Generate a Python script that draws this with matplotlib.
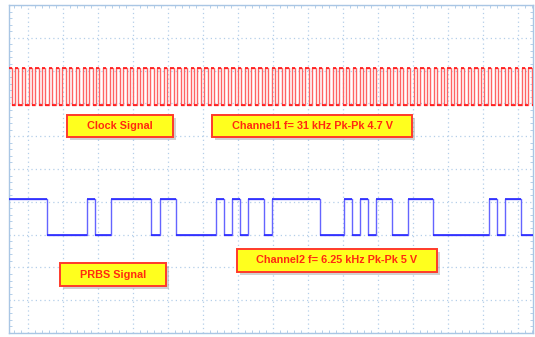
import numpy as np
import matplotlib
matplotlib.use('Agg')
import matplotlib.pyplot as plt
from matplotlib.patches import Rectangle
from matplotlib.ticker import MultipleLocator

# time base: 100 us per division, vertical in divisions
T_START = -54.3
T_END = 1443.0

# channel 1 - clock
clock_period_us = 19.3
clock_high = 3.08
clock_low = 1.95

# channel 2 - PRBS, bits
prbs_bit_us = 22.95
prbs_bits = [1, 1, 1, 1, 1,
             0, 0, 0, 0, 0, 1, 0, 0, 1, 1, 1, 1, 1, 0, 1, 1,
             0, 0, 0, 0, 0, 1, 0, 1, 0, 1, 1, 0, 1, 1, 1, 1, 1, 1,
             0, 0, 0, 1, 0, 1, 0, 1, 1, 0, 0, 1, 1, 1,
             0, 0, 0, 0, 0, 0, 0, 1, 0, 1, 1, 0, 0, 1, 1]
prbs_high = -0.91
prbs_low = -2.01

labels_top = ['Clock Signal', 'Channel1 f= 31 kHz Pk-Pk 4.7 V']
labels_bottom = ['PRBS Signal', 'Channel2 f= 6.25 kHz Pk-Pk 5 V']

GRID_COL = '#b4cfe9'


def square_wave(period, t0, t1):
    edges = np.arange(t0, t1 + period, period / 2.0)
    lev = np.array([clock_high if i % 2 == 0 else clock_low for i in range(len(edges))])
    return edges, lev


def bits_wave(bits, bit_len, t0):
    t = t0 + np.arange(len(bits) + 1) * bit_len
    lev = [prbs_high if b else prbs_low for b in bits]
    lev.append(lev[-1])
    return t, np.array(lev)


def draw_trace(ax, t, v, col, edge_col):
    # thin lighter edges like the scope screen, solid flat parts on top
    ax.step(t, v, where='post', color=edge_col, lw=1.0, zorder=3)
    ax.hlines(v[:-1], t[:-1], t[1:], color=col, lw=1.2, zorder=3.5)


def label_box(ax, x0, y0, x1, y1, txt):
    # shadow first, then the yellow box
    ax.add_patch(Rectangle((x0 + 0.005, y0 - 0.01), x1 - x0, y1 - y0,
                           transform=ax.transAxes, facecolor='#999999',
                           alpha=0.45, edgecolor='none', zorder=4))
    ax.add_patch(Rectangle((x0, y0), x1 - x0, y1 - y0, transform=ax.transAxes,
                           facecolor='#ffff1e', edgecolor='#ff3a2a', lw=1.4, zorder=5))
    ax.text((x0 + x1) / 2, (y0 + y1) / 2, txt, transform=ax.transAxes,
            ha='center', va='center', color='#ff2a10', fontsize=7.8,
            fontweight='bold', family='Liberation Sans', zorder=6)


fig = plt.figure(figsize=(5.35, 3.37), dpi=100)
ax = fig.add_axes([9 / 535, 4 / 337, 524 / 535, 328 / 337])

t, v = square_wave(clock_period_us, T_START - 2, T_END)
draw_trace(ax, t, v, '#ff1414', '#ff6464')

t, v = bits_wave(prbs_bits, prbs_bit_us, T_START - 6)
draw_trace(ax, t, v, '#2828ff', '#6464ff')

ax.set_xlim(T_START, T_END)
ax.set_ylim(-5, 5)
ax.xaxis.set_major_locator(MultipleLocator(100))
ax.yaxis.set_major_locator(MultipleLocator(1))
ax.xaxis.set_minor_locator(MultipleLocator(20))
ax.yaxis.set_minor_locator(MultipleLocator(0.2))
ax.grid(True, which='major', color=GRID_COL, ls=(0, (1, 2.5)), lw=0.9)
ax.tick_params(which='both', direction='in', top=True, right=True,
               labelbottom=False, labelleft=False, color=GRID_COL)
ax.tick_params(which='major', length=0)
ax.tick_params(which='minor', length=2.5, width=0.7)
for s in ax.spines.values():
    s.set_color('#a9c6e4')
    s.set_linewidth(1.0)

label_box(ax, 0.1107, 0.5976, 0.3130, 0.6646, labels_top[0])
label_box(ax, 0.3874, 0.5976, 0.7691, 0.6646, labels_top[1])
label_box(ax, 0.0973, 0.1433, 0.2996, 0.2134, labels_bottom[0])
label_box(ax, 0.4351, 0.1860, 0.8168, 0.2561, labels_bottom[1])

fig.savefig('out.png', dpi=100)
